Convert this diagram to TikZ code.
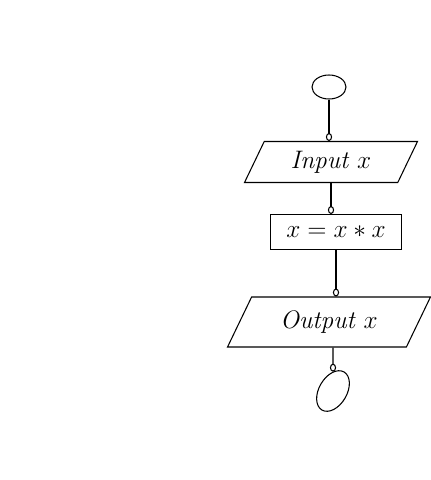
\documentclass[tikz,border=0pt]{standalone}
\usetikzlibrary{shapes.geometric,arrows.meta}
\tikzset{>={Circle[open,length=4.5pt,width=3.5pt]}}

\begin{document}
\begin{tikzpicture}[x=0.02cm,y=-0.02cm,
    line width=0.6pt,
    term/.style={draw,ellipse,minimum width=0.68cm,minimum height=0.48cm,inner sep=0pt},
    io/.style={draw,trapezium,trapezium left angle=56,trapezium right angle=124,
      trapezium stretches body,inner sep=2pt,font=\Large},
    proc/.style={draw,rectangle,minimum width=2.62cm,minimum height=0.7cm,font=\Large}]

  \useasboundingbox (0,0) rectangle (431,480);

  \node[term] (start) at (329,87) {};
  \node[io,minimum width=3.46cm,minimum height=0.82cm] (input) at (331,162) {\itshape Input $x$};
  \node[proc] (square) at (336,232) {$x = x * x$};
  \node[io,minimum width=4.06cm,minimum height=1.0cm,trapezium left angle=51,trapezium right angle=129] (output) at (329,322) {\itshape Output $x$};
  \node[term,rotate=60,minimum width=0.88cm,minimum height=0.56cm] (stop) at (333,391) {};

  \draw[->] (start) -- (start |- input.north);
  \draw[->] (input.south) -- (input.south |- square.north);
  \draw[->] (square.south) -- (square.south |- output.north);
  \draw[->] (output.south -| stop) -- (stop);

\end{tikzpicture}
\end{document}
